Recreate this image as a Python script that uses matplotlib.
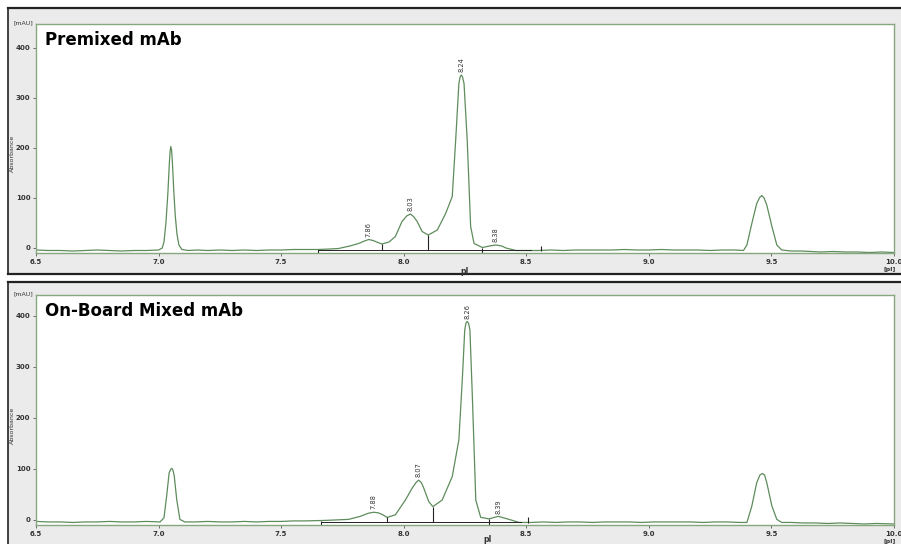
import matplotlib
matplotlib.use("Agg")
import matplotlib.pyplot as plt
from matplotlib.patches import Rectangle
from matplotlib.lines import Line2D

# ---- data (pI, mAU) ----
top_pi = [6.50, 6.55, 6.60, 6.65, 6.70, 6.75, 6.80, 6.85, 6.90, 6.95, 7.00, 7.015, 7.022, 7.03, 7.038,
          7.044, 7.047, 7.050, 7.053, 7.056, 7.062, 7.068, 7.075, 7.083, 7.095, 7.12, 7.16, 7.20, 7.25,
          7.30, 7.35, 7.40, 7.45, 7.50, 7.55, 7.60, 7.65, 7.70, 7.734, 7.78, 7.816, 7.84, 7.857, 7.875,
          7.895, 7.911, 7.94, 7.966, 7.993, 8.012, 8.027, 8.040, 8.055, 8.075, 8.100, 8.137, 8.171,
          8.198, 8.212, 8.225, 8.230, 8.235, 8.240, 8.246, 8.259, 8.273, 8.287, 8.321, 8.35, 8.376,
          8.40, 8.417, 8.458, 8.50, 8.55, 8.60, 8.65, 8.70, 8.75, 8.80, 8.85, 8.90, 8.95, 9.00, 9.05,
          9.10, 9.15, 9.20, 9.25, 9.30, 9.35, 9.386, 9.400, 9.420, 9.440, 9.452, 9.461, 9.470, 9.481,
          9.502, 9.522, 9.542, 9.58, 9.62, 9.66, 9.70, 9.75, 9.80, 9.85, 9.90, 9.95, 10.0]
top_mau = [-4, -5, -5, -6, -5, -4, -5, -6, -5, -5, -4, 0, 12, 50, 110,
           170, 193, 203, 196, 175, 115, 65, 28, 6, -3, -5, -4, -5, -4,
           -5, -4, -5, -4, -4, -3, -3, -3, -2, -1, 4, 9, 14, 17, 15,
           11, 8, 12, 23, 53, 64, 68, 63, 53, 33, 26, 36, 69,
           103, 216, 329, 342, 346, 342, 329, 216, 43, 9, 1, 4, 6,
           4, 0, -5, -5, -5, -4, -5, -4, -4, -4, -4, -3, -4, -4, -3,
           -4, -4, -4, -5, -4, -4, -5, 6, 49, 89, 101, 105, 100, 86,
           43, 6, -4, -6, -6, -7, -8, -7, -8, -8, -9, -8, -9]

bot_pi = [6.50, 6.55, 6.60, 6.65, 6.70, 6.75, 6.80, 6.85, 6.90, 6.95, 7.006, 7.022, 7.033, 7.043,
          7.049, 7.054, 7.059, 7.064, 7.074, 7.087, 7.107, 7.15, 7.20, 7.25, 7.30, 7.35, 7.40, 7.45,
          7.50, 7.55, 7.60, 7.679, 7.775, 7.823, 7.855, 7.877, 7.895, 7.911, 7.932, 7.966, 8.007,
          8.034, 8.050, 8.061, 8.072, 8.082, 8.102, 8.119, 8.157, 8.198, 8.225, 8.239, 8.249, 8.254,
          8.259, 8.264, 8.270, 8.280, 8.294, 8.314, 8.348, 8.385, 8.430, 8.471, 8.52, 8.57, 8.62,
          8.67, 8.72, 8.77, 8.82, 8.87, 8.92, 8.97, 9.02, 9.07, 9.12, 9.17, 9.22, 9.27, 9.32, 9.37,
          9.400, 9.420, 9.440, 9.453, 9.463, 9.472, 9.481, 9.502, 9.522, 9.542, 9.58, 9.63, 9.68,
          9.73, 9.78, 9.83, 9.88, 9.93, 10.0]
bot_mau = [-3, -4, -4, -5, -4, -4, -3, -4, -4, -3, -4, 4, 47, 92,
           99, 101, 97, 86, 40, 1, -4, -4, -3, -4, -4, -3, -4, -3,
           -3, -2, -2, -1, 1, 7, 13, 15, 14, 11, 5, 10, 39,
           62, 73, 78, 73, 62, 36, 26, 39, 85, 157, 275, 373, 386,
           389, 386, 373, 242, 39, 5, 2, 7, 1, -5, -5, -4, -5,
           -4, -4, -5, -4, -4, -4, -5, -4, -4, -4, -4, -5, -4, -4, -5,
           -5, 27, 73, 88, 91, 88, 73, 27, 1, -5, -5, -6, -6,
           -7, -6, -7, -8, -7, -8]

# integration marks: position, upper end, lower end
top_cut_pi = [7.65, 7.91, 8.10, 8.32, 8.56]
top_cut_hi = [-3, 8, 26, 1, 4]
top_cut_lo = [-10, -4, -4, -9, -5]
top_base = [7.65, 8.52]

bot_cut_pi = [7.664, 7.932, 8.119, 8.348, 8.505]
bot_cut_hi = [-3, 5, 26, 2, 5]
bot_cut_lo = [-10, -5, -5, -10, -7]
bot_base = [7.664, 8.48]

top_peak_pi = [7.857, 8.027, 8.235, 8.376]
top_peak_mau = [17, 68, 346, 6]
top_peak_lbl = ["7.86", "8.03", "8.24", "8.38"]

bot_peak_pi = [7.877, 8.061, 8.259, 8.385]
bot_peak_mau = [15, 78, 389, 7]
bot_peak_lbl = ["7.88", "8.07", "8.26", "8.39"]

x_ticks = [6.5, 7.0, 7.5, 8.0, 8.5, 9.0, 9.5, 10.0]
y_ticks = [0, 100, 200, 300, 400]

W, H = 901, 544
trace_col = "#5e8c5c"
spine_col = "#86a77f"
panel_col = "#ebebeb"


def fx(px):
    return px / W


def fy(py):
    return 1 - py / H


def draw_panel(fig, top_px, bot_px, ax_top, ax_bot, ylim, pi, mau, cut_pi, cut_hi, cut_lo, base,
               pk_pi, pk_mau, pk_lbl, title, pi_lbl_x, pi_lbl_y):
    # gray instrument panel behind the plot
    fig.patches.append(Rectangle((fx(8), fy(bot_px)), fx(W - 8), fy(top_px) - fy(bot_px),
                                 transform=fig.transFigure, facecolor=panel_col, edgecolor="none", zorder=-10))
    fig.lines.append(Line2D([fx(8), 1], [fy(top_px), fy(top_px)], transform=fig.transFigure,
                            color="#222222", lw=1.6, zorder=-5))
    fig.lines.append(Line2D([fx(8), fx(8)], [fy(top_px), fy(min(bot_px, H))], transform=fig.transFigure,
                            color="#222222", lw=1.2, zorder=-5))
    if bot_px < H:
        fig.lines.append(Line2D([fx(8), 1], [fy(bot_px), fy(bot_px)], transform=fig.transFigure,
                                color="#222222", lw=1.6, zorder=-5))

    ax = fig.add_axes([fx(36), fy(ax_bot), fx(894 - 36), fy(ax_top) - fy(ax_bot)])
    ax.set_facecolor("white")
    ax.plot(pi, mau, color=trace_col, lw=0.9)

    # integration baseline and drop lines
    ax.plot(base, [cut_lo[1], cut_lo[1]], color="#222222", lw=0.7)
    ax.vlines(cut_pi, cut_lo, cut_hi, color="#222222", lw=0.8)

    for p, m, t in zip(pk_pi, pk_mau, pk_lbl):
        ax.annotate(t, (p, m), xytext=(0, 2), textcoords="offset points", rotation=90,
                    ha="center", va="bottom", fontsize=4.8, color="#333333")

    ax.set_xlim(6.5, 10.0)
    ax.set_ylim(*ylim)
    ax.set_xticks(x_ticks)
    ax.set_xticklabels(["%.1f" % v for v in x_ticks])
    ax.set_yticks(y_ticks)
    ax.tick_params(axis="both", labelsize=5, colors="#555555", labelcolor="#333333", length=2, width=0.6, pad=2)
    for lab in ax.get_xticklabels() + ax.get_yticklabels():
        lab.set_fontweight("bold")
    for s in ax.spines.values():
        s.set_color(spine_col)
        s.set_linewidth(1.0)

    fig.text(fx(45), fy(ax_top + 16), title, fontsize=12, fontweight="bold", va="center", ha="left")
    fig.text(fx(23), fy(ax_top - 1), "[mAU]", fontsize=4.5, color="#333333", ha="center", va="center")
    fig.text(fx(12), fy((ax_top + ax_bot) / 2 + 15), "Absorbance", fontsize=4.5, color="#333333",
             rotation=90, ha="center", va="center")
    fig.text(fx(890), fy(ax_bot + 17), "[pI]", fontsize=4.5, color="#333333", ha="center", va="center",
             fontweight="bold")
    fig.text(fx(pi_lbl_x), fy(pi_lbl_y), "pI", fontsize=5.5, color="#333333", ha="center", va="center",
             fontweight="bold")
    return ax


fig = plt.figure(figsize=(W / 100, H / 100), dpi=100)
fig.patch.set_facecolor("white")

draw_panel(fig, 8, 274, 24, 253, (-10, 448), top_pi, top_mau, top_cut_pi, top_cut_hi, top_cut_lo,
           top_base, top_peak_pi, top_peak_mau, top_peak_lbl, "Premixed mAb", 465, 271)
draw_panel(fig, 282, 560, 295, 525, (-10, 441), bot_pi, bot_mau, bot_cut_pi, bot_cut_hi, bot_cut_lo,
           bot_base, bot_peak_pi, bot_peak_mau, bot_peak_lbl, "On-Board Mixed mAb", 488, 539)

fig.savefig("out.png", dpi=100)
